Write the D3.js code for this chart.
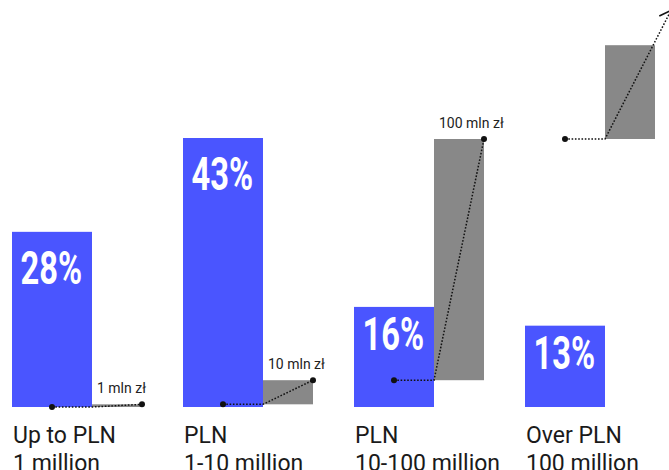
<!DOCTYPE html>
<html>
<head>
<meta charset="utf-8">
<script src="https://cdn.jsdelivr.net/npm/d3@7"></script>
<style>
  html, body { margin: 0; padding: 0; background: #fff; }
  svg { display: block; }
</style>
</head>
<body>
<svg id="chart" width="669" height="470"></svg>
<script>
// Share of companies by revenue band
const categories = ["Up to PLN|1 million", "PLN|1-10 million", "PLN|10-100 million", "Over PLN|100 million"];
const shares = [28, 43, 16, 13];

// Revenue thresholds (mln zł) bounding each band; the last band is open-ended
const bandLow = [0, 1, 10, 100];
const bandHigh = [1, 10, 100, 135];
const thresholdLabels = ["1 mln zł", "10 mln zł", "100 mln zł", ""];
const arrowValue = 148;

const BLUE = "#4a55ff";
const GREY = "#888888";
const INK = "#111111";

const svg = d3.select("#chart");
const baseY = 407;

const x = d3.scaleBand().domain(categories).range([12, 696]).paddingInner(0);
const blueW = 80, greyW = 50;

const yPct = d3.scaleLinear().domain([0, 43]).range([baseY, 138]);
const yMln = d3.scaleLinear().domain([0, 100]).range([baseY, 139]);

const rows = categories.map((c, i) => ({
  cat: c, share: shares[i], lo: bandLow[i], hi: bandHigh[i], label: thresholdLabels[i], last: i === categories.length - 1
}));

// Grey step bars showing each band's revenue range
svg.append("g").selectAll("rect").data(rows).join("rect")
  .attr("x", d => x(d.cat) + blueW)
  .attr("width", greyW)
  .attr("y", d => yMln(d.hi))
  .attr("height", d => yMln(d.lo) - yMln(d.hi))
  .attr("fill", GREY);

// Blue share bars
svg.append("g").selectAll("rect").data(rows).join("rect")
  .attr("x", d => x(d.cat))
  .attr("width", blueW)
  .attr("y", d => yPct(d.share))
  .attr("height", d => baseY - yPct(d.share))
  .attr("fill", BLUE);

// Percentage labels inside the bars
svg.append("g").selectAll("text").data(rows).join("text")
  .attr("transform", d => {
    const top = yPct(d.share);
    const h = baseY - top;
    const by = top + (h > 150 ? 52 : 43);
    return `translate(${x(d.cat) + 8.5},${by}) scale(0.71,1)`;
  })
  .attr("font-family", "Roboto, 'Liberation Sans', sans-serif")
  .attr("font-weight", 700)
  .attr("font-size", 46)
  .attr("fill", "#fff")
  .text(d => d.share + "%");

// Dotted connector: dot in the share bar, along the lower threshold, up the range
const conn = svg.append("g");
rows.forEach(d => {
  const x0 = x(d.cat) + blueW / 2;
  const xl = x(d.cat) + blueW;
  const xr = xl + greyW;
  const y0 = yMln(d.lo);
  let tipX, tipY;
  if (d.last) {
    const ya = yMln(arrowValue);
    // extend the rise from the lower threshold to the arrow tip
    tipY = ya;
    tipX = xl + (xr + 16 - xl);
  } else {
    tipX = xr;
    tipY = yMln(d.hi);
  }
  conn.append("path")
    .attr("d", d3.line()([[x0, y0], [xl, y0], [tipX, tipY]]))
    .attr("fill", "none")
    .attr("stroke", INK)
    .attr("stroke-width", 1.5)
    .attr("stroke-dasharray", "1.6,1.7");
  conn.append("circle").attr("cx", x0).attr("cy", y0).attr("r", 3).attr("fill", INK);
  if (d.last) {
    const dx = tipX - xl, dy = tipY - y0;
    const len = Math.hypot(dx, dy);
    const bx = -dx / len, by = -dy / len;
    const a = 37 * Math.PI / 180, L = 13;
    const rot = t => [bx * Math.cos(t) - by * Math.sin(t), bx * Math.sin(t) + by * Math.cos(t)];
    const [l1, l2] = rot(a), [r1, r2] = rot(-a);
    conn.append("path")
      .attr("d", d3.line()([[tipX + l1 * L, tipY + l2 * L], [tipX, tipY], [tipX + r1 * L, tipY + r2 * L]]))
      .attr("fill", "none")
      .attr("stroke", INK)
      .attr("stroke-width", 1.6);
  } else {
    conn.append("circle").attr("cx", tipX).attr("cy", tipY).attr("r", 3).attr("fill", INK);
  }
});

// Threshold labels above the grey bars
svg.append("g").selectAll("text").data(rows.filter(d => d.label)).join("text")
  .attr("x", d => x(d.cat) + blueW + 5)
  .attr("y", d => yMln(d.hi) - 11)
  .attr("font-family", "Roboto, 'Liberation Sans', sans-serif")
  .attr("font-size", 14)
  .attr("fill", "#222")
  .text(d => d.label);

// Category labels under the baseline
const cat = svg.append("g").selectAll("text").data(rows).join("text")
  .attr("x", d => x(d.cat) + 1)
  .attr("y", 442.7)
  .attr("font-family", "Roboto, 'Liberation Sans', sans-serif")
  .attr("font-size", 23)
  .attr("fill", "#1a1a1a");
cat.each(function(d) {
  const parts = d.cat.split("|");
  const t = d3.select(this);
  parts.forEach((p, j) => {
    t.append("tspan").attr("x", x(d.cat) + 1).attr("dy", j === 0 ? 0 : 28.3).text(p);
  });
});
</script>
</body>
</html>
